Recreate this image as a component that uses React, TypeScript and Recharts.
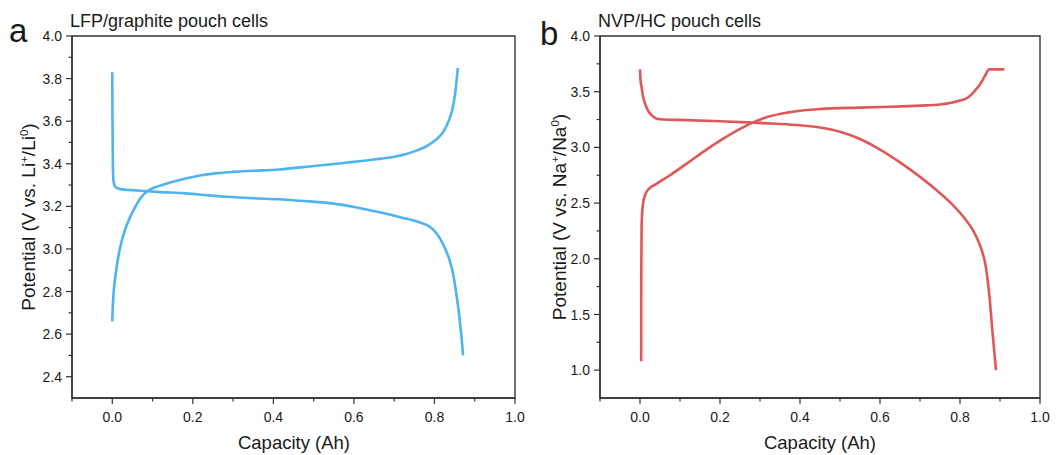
import React from "react";
import { LineChart, Line, XAxis, YAxis, ReferenceArea } from "recharts";

// ---------- data ----------
const lfpChargeCap = [0.0, 0.0015, 0.004, 0.0075, 0.013, 0.02, 0.03, 0.042, 0.055, 0.067, 0.08, 0.095, 0.115, 0.14, 0.17, 0.217, 0.26, 0.3, 0.35, 0.415, 0.467, 0.52, 0.58, 0.65, 0.7, 0.73, 0.76, 0.785, 0.805, 0.822, 0.835, 0.845, 0.852, 0.858];
const lfpChargeV = [2.66, 2.74, 2.81, 2.87, 2.94, 3.01, 3.08, 3.14, 3.19, 3.23, 3.26, 3.28, 3.295, 3.31, 3.325, 3.345, 3.356, 3.362, 3.367, 3.373, 3.383, 3.393, 3.405, 3.42, 3.433, 3.446, 3.465, 3.488, 3.515, 3.55, 3.6, 3.66, 3.74, 3.85];

const lfpDischargeCap = [0.0, 0.0005, 0.0015, 0.003, 0.006, 0.01, 0.02, 0.05, 0.08, 0.12, 0.175, 0.23, 0.283, 0.35, 0.415, 0.467, 0.54, 0.6, 0.664, 0.72, 0.76, 0.785, 0.8, 0.815, 0.828, 0.838, 0.847, 0.855, 0.862, 0.867, 0.871];
const lfpDischargeV = [3.83, 3.6, 3.4, 3.32, 3.297, 3.288, 3.281, 3.276, 3.272, 3.267, 3.262, 3.253, 3.245, 3.238, 3.233, 3.226, 3.215, 3.197, 3.172, 3.147, 3.127, 3.108, 3.085, 3.045, 2.995, 2.945, 2.875, 2.78, 2.68, 2.59, 2.5];

const nvpChargeCap = [0.003, 0.0031, 0.004, 0.007, 0.0125, 0.02, 0.04, 0.075, 0.115, 0.158, 0.2, 0.242, 0.283, 0.32, 0.367, 0.41, 0.45, 0.55, 0.628, 0.7, 0.75, 0.778, 0.8, 0.821, 0.835, 0.849, 0.862, 0.873, 0.911];
const nvpChargeV = [1.08, 1.8, 2.3, 2.48, 2.57, 2.62, 2.67, 2.75, 2.85, 2.96, 3.06, 3.15, 3.225, 3.275, 3.312, 3.333, 3.345, 3.357, 3.365, 3.375, 3.385, 3.4, 3.42, 3.45, 3.5, 3.56, 3.64, 3.7, 3.7];

const nvpDischargeCap = [0.0, 0.001, 0.004, 0.008, 0.013, 0.02, 0.03, 0.042, 0.06, 0.117, 0.2, 0.283, 0.34, 0.4, 0.45, 0.5, 0.55, 0.6, 0.65, 0.7, 0.74, 0.78, 0.81, 0.835, 0.852, 0.865, 0.874, 0.881, 0.89];
const nvpDischargeV = [3.7, 3.62, 3.54, 3.45, 3.39, 3.33, 3.285, 3.258, 3.25, 3.245, 3.235, 3.222, 3.212, 3.198, 3.178, 3.14, 3.075, 2.98, 2.865, 2.735, 2.62, 2.49, 2.37, 2.24, 2.1, 1.92, 1.65, 1.35, 1.0];

const xTicks = [-0.1, 0.0, 0.1, 0.2, 0.3, 0.4, 0.5, 0.6, 0.7, 0.8, 0.9, 1.0];
const xMajor = [0.0, 0.2, 0.4, 0.6, 0.8, 1.0];
const yTicksA = [2.4, 2.5, 2.6, 2.7, 2.8, 2.9, 3.0, 3.1, 3.2, 3.3, 3.4, 3.5, 3.6, 3.7, 3.8, 3.9, 4.0];
const yMajorA = [2.4, 2.6, 2.8, 3.0, 3.2, 3.4, 3.6, 3.8, 4.0];
const yTicksB = [1.0, 1.25, 1.5, 1.75, 2.0, 2.25, 2.5, 2.75, 3.0, 3.25, 3.5, 3.75, 4.0];
const yMajorB = [1.0, 1.5, 2.0, 2.5, 3.0, 3.5, 4.0];

const zip = (c: number[], v: number[]) => c.map((cap, i) => ({ c: cap, v: v[i] }));

const FONT = "'Liberation Sans', Arial, Helvetica, sans-serif";
const AXIS = "#333";
const TEXT = "#1a1a1a";
const BLUE = "#4db4f1";
const RED = "#e05757";

const isIn = (list: number[], v: number) => list.some((m) => Math.abs(m - v) < 1e-6);

const makeYTick = (majors: number[]) => (props: any) => {
  const { x, y, payload } = props;
  const major = isIn(majors, payload.value);
  return (
    <g>
      <line x1={x} x2={x - (major ? 6 : 3.5)} y1={y} y2={y} stroke={AXIS} strokeWidth={1.2} />
      {major && (
        <text x={x - 10} y={y} dy="0.36em" textAnchor="end" fontSize={14} fill={TEXT} fontFamily={FONT}>
          {payload.value.toFixed(1)}
        </text>
      )}
    </g>
  );
};

const xTick = (props: any) => {
  const { x, y, payload } = props;
  const major = isIn(xMajor, payload.value);
  return (
    <g>
      <line x1={x} x2={x} y1={y} y2={y + (major ? 6 : 3.5)} stroke={AXIS} strokeWidth={1.2} />
      {major && (
        <text x={x} y={y + 24} textAnchor="middle" fontSize={14} fill={TEXT} fontFamily={FONT}>
          {payload.value.toFixed(1)}
        </text>
      )}
    </g>
  );
};

type PanelProps = {
  left: number;
  margin: { top: number; right: number; bottom: number; left: number };
  yDomain: [number, number];
  yTicks: number[];
  yMajor: number[];
  series: { data: { c: number; v: number }[]; color: string; name: string }[];
};

const Panel = ({ left, margin, yDomain, yTicks, yMajor, series }: PanelProps) => (
  <div style={{ position: "absolute", left, top: 0 }}>
    <LineChart width={532} height={455} margin={margin}>
      <XAxis
        dataKey="c"
        type="number"
        domain={[-0.1, 1.0]}
        ticks={xTicks}
        interval={0}
        allowDataOverflow
        tickSize={0}
        tickMargin={0}
        tickLine={false}
        axisLine={{ stroke: AXIS, strokeWidth: 1.4 }}
        tick={xTick}
        height={30}
      />
      <YAxis
        dataKey="v"
        type="number"
        domain={yDomain}
        ticks={yTicks}
        interval={0}
        allowDataOverflow
        tickSize={0}
        tickMargin={0}
        tickLine={false}
        axisLine={{ stroke: AXIS, strokeWidth: 1.4 }}
        tick={makeYTick(yMajor)}
        width={40}
      />
      <ReferenceArea
        x1={-0.1}
        x2={1.0}
        y1={yDomain[0]}
        y2={yDomain[1]}
        fill="none"
        fillOpacity={0}
        stroke={AXIS}
        strokeWidth={1.4}
        ifOverflow="visible"
      />
      {series.map((s) => (
        <Line
          key={s.name}
          data={s.data}
          dataKey="v"
          type="monotone"
          stroke={s.color}
          strokeWidth={2.6}
          dot={false}
          activeDot={false}
          isAnimationActive={false}
        />
      ))}
    </LineChart>
  </div>
);

export default function App() {
  return (
    <div style={{ position: "absolute", left: 0, top: 0, width: 1064, height: 455, background: "#fff", fontFamily: FONT }}>
      <Panel
        left={0}
        margin={{ top: 36, right: 17, bottom: 27, left: 32 }}
        yDomain={[2.3, 4.0]}
        yTicks={yTicksA}
        yMajor={yMajorA}
        series={[
          { name: "lfpCharge", data: zip(lfpChargeCap, lfpChargeV), color: BLUE },
          { name: "lfpDischarge", data: zip(lfpDischargeCap, lfpDischargeV), color: BLUE },
        ]}
      />
      <Panel
        left={532}
        margin={{ top: 36, right: 24, bottom: 27, left: 28 }}
        yDomain={[0.75, 4.0]}
        yTicks={yTicksB}
        yMajor={yMajorB}
        series={[
          { name: "nvpCharge", data: zip(nvpChargeCap, nvpChargeV), color: RED },
          { name: "nvpDischarge", data: zip(nvpDischargeCap, nvpDischargeV), color: RED },
        ]}
      />
      <svg
        width={1064}
        height={455}
        style={{ position: "absolute", left: 0, top: 0, pointerEvents: "none" }}
        fontFamily={FONT}
        fill={TEXT}
      >
        <text x={9} y={42} fontSize={33}>a</text>
        <text x={540} y={45} fontSize={33}>b</text>
        <text x={70} y={27} fontSize={18}>LFP/graphite pouch cells</text>
        <text x={598} y={27} fontSize={18}>NVP/HC pouch cells</text>
        <text x={294} y={449} fontSize={18.5} textAnchor="middle">Capacity (Ah)</text>
        <text x={820} y={449} fontSize={18.5} textAnchor="middle">Capacity (Ah)</text>
        <text x={35} y={217} fontSize={19} textAnchor="middle" transform="rotate(-90, 35, 217)">
          Potential (V vs. Li<tspan dy={-7} fontSize={11.5}>+</tspan>
          <tspan dy={7}>/Li</tspan>
          <tspan dy={-7} fontSize={11.5}>0</tspan>
          <tspan dy={7}>)</tspan>
        </text>
        <text x={566} y={217} fontSize={19} textAnchor="middle" transform="rotate(-90, 566, 217)">
          Potential (V vs. Na<tspan dy={-7} fontSize={11.5}>+</tspan>
          <tspan dy={7}>/Na</tspan>
          <tspan dy={-7} fontSize={11.5}>0</tspan>
          <tspan dy={7}>)</tspan>
        </text>
      </svg>
    </div>
  );
}
